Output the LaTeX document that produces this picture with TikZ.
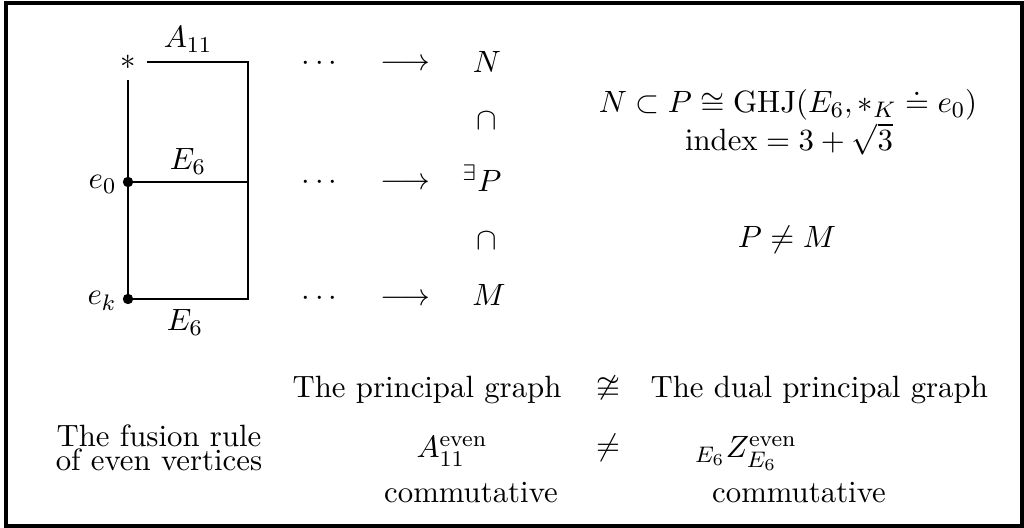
\documentclass[tikz,border=0pt,11pt]{standalone}
\usepackage{amsmath,amssymb}
\usepackage{tikz}

\begin{document}
\begin{tikzpicture}[
  x=0.0125cm, y=-0.0125cm,
  txt/.style={anchor=base, inner sep=0pt},
  edge/.style={line width=0.9pt},
  vtx/.style={circle, fill, inner sep=0pt, minimum size=1.3mm},
  frame/.style={line width=1.1pt}
]
  \useasboundingbox (0,0) rectangle (1024,528);
  \draw[frame] (6,3) rectangle (1022,526);

  % the graph
  \node[txt] (star) at (128,70) {$*$};
  \coordinate (top) at (128,80);
  \coordinate (tl) at (147,62);
  \coordinate (tr) at (248,62);
  \node[vtx] (eZero) at (128,182) {};
  \coordinate (mr) at (248,182);
  \node[vtx] (eK) at (128,299) {};
  \coordinate (br) at (248,299);
  \draw[edge] (tl) -- (tr) -- (br) -- (eK.center) -- (top);
  \draw[edge] (eZero.center) -- (mr);

  \node[txt] (lblA) at (188,48) {$A_{11}$};
  \node[txt] (lblEmid) at (188,170) {$E_6$};
  \node[txt] (lblEbot) at (185,331) {$E_6$};
  \node[txt, anchor=base east] (lblZero) at (117,189) {$e_0$};
  \node[txt, anchor=base east] (lblK) at (117,305) {$e_k$};

  % inclusions
  \node[txt] (dotsN) at (322,71) {$\cdots$};
  \node[txt] (arrN) at (405,71) {$\longrightarrow$};
  \node[txt] (N) at (487,73) {$N$};
  \node[txt] (capNP) at (487,130) {$\cap$};
  \node[txt] (dotsP) at (322,190) {$\cdots$};
  \node[txt] (arrP) at (405,190) {$\longrightarrow$};
  \node[txt] (P) at (482,192) {${}^{\exists}P$};
  \node[txt] (capPM) at (487,250) {$\cap$};
  \node[txt] (dotsM) at (322,306) {$\cdots$};
  \node[txt] (arrM) at (405,306) {$\longrightarrow$};
  \node[txt] (M) at (489,306) {$M$};

  \node[txt] (ghj) at (788,113) {$N\subset P\cong\mathrm{GHJ}(E_6,*_K\doteq e_0)$};
  \node[txt] (index) at (789,151) {$\mathrm{index}=3+\sqrt{3}$};
  \node[txt] (PneqM) at (787,248) {$P\neq M$};

  % comparison table
  \node[txt, anchor=base east] (principal) at (562,398) {The principal graph};
  \node[txt] (ncong) at (608,396) {$\ncong$};
  \node[txt, anchor=base west] (dual) at (650,398) {The dual principal graph};

  \node[align=center, inner sep=0pt, font=\fontsize{10.95}{8.4}\selectfont] (fusion) at (159,448)
    {The fusion rule\\of even vertices};
  \node[txt] (Aeven) at (452,458) {$A_{11}^{\mathrm{even}}$};
  \node[txt] (neq) at (608,455) {$\neq$};
  \node[txt] (Zeven) at (746,458) {${}_{E_6}Z_{E_6}^{\mathrm{even}}$};
  \node[txt] (commA) at (471,502) {commutative};
  \node[txt] (commZ) at (799,502) {commutative};
\end{tikzpicture}
\end{document}
